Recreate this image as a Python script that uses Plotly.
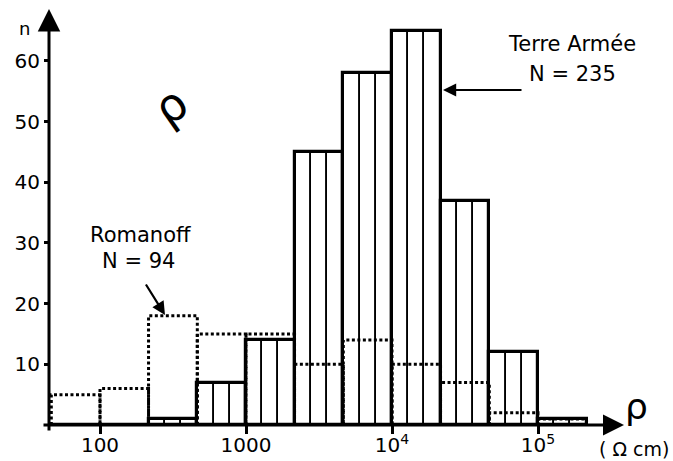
import numpy as np
import plotly.graph_objects as go

# Resistivity bin edges (ohm.cm), 1/3 decade bins
bin_edges = [46.4, 100, 215, 464, 1000, 2150, 4640, 10000, 21500, 46400, 100000, 215000]
# Counts per bin
terre_armee = [0, 0, 1, 7, 14, 45, 58, 65, 37, 12, 1]
romanoff = [5, 6, 18, 15, 15, 10, 14, 10, 7, 2, 1]

x_tick_values = [100, 1000, 10000, 100000]
x_tick_labels = ["100", "1000", "10<sup>4</sup>", "10<sup>5</sup>"]
y_tick_values = [10, 20, 30, 40, 50, 60]
y_tick_labels = ["10", "20", "30", "40", "50", "60"]

W, H = 673, 461
FONT = "DejaVu Sans"

le = np.log10(bin_edges)
lo, hi = le[:-1], le[1:]
centers = (lo + hi) / 2
widths = hi - lo

fig = go.Figure()

# main Terre Armée bars (thick outline)
fig.add_trace(go.Bar(
    x=centers, y=terre_armee, width=widths,
    marker=dict(color="white", line=dict(color="black", width=3.2)),
    showlegend=False, hoverinfo="skip"))

# internal vertical division lines (each bar split in three)
sub_x, sub_y, sub_w = [], [], []
for l0, w, v in zip(lo, widths, terre_armee):
    if v <= 0:
        continue
    for j in range(3):
        sub_x.append(l0 + (j + 0.5) * w / 3)
        sub_y.append(v)
        sub_w.append(w / 3)
fig.add_trace(go.Bar(
    x=sub_x, y=sub_y, width=sub_w,
    marker=dict(color="rgba(0,0,0,0)", line=dict(color="black", width=1.7)),
    showlegend=False, hoverinfo="skip"))

# Romanoff dotted histogram outline
rx, ry = [], []
for l0, l1, v in zip(lo, hi, romanoff):
    rx += [l0, l0, l1, l1, None]
    ry += [0, v, v, 0, None]
fig.add_trace(go.Scatter(
    x=rx, y=ry, mode="lines",
    line=dict(color="black", width=3, dash="3px,2.5px"),
    showlegend=False, hoverinfo="skip"))


def px(x):
    return x / W


def py(y):
    return 1 - y / H


annotations = []
# axis arrows
annotations.append(dict(x=px(624), y=py(425), xref="paper", yref="paper",
                        ax=-582, ay=0, axref="pixel", ayref="pixel",
                        text="", showarrow=True, arrowhead=2, arrowsize=1.4,
                        arrowwidth=3, arrowcolor="black", standoff=0))
annotations.append(dict(x=px(49), y=py(9), xref="paper", yref="paper",
                        ax=0, ay=423, axref="pixel", ayref="pixel",
                        text="", showarrow=True, arrowhead=2, arrowsize=1.5,
                        arrowwidth=3, arrowcolor="black", standoff=0))
# label arrows
annotations.append(dict(x=px(443), y=py(90), xref="paper", yref="paper",
                        ax=80, ay=0, text="", showarrow=True, arrowhead=2,
                        arrowsize=1.2, arrowwidth=2.2, arrowcolor="black", standoff=0))
annotations.append(dict(x=px(165), y=py(315), xref="paper", yref="paper",
                        ax=-20, ay=-32, text="", showarrow=True, arrowhead=2,
                        arrowsize=1.2, arrowwidth=2.2, arrowcolor="black", standoff=0))


def txt(s, x, y, size=21, angle=0):
    return dict(x=px(x), y=py(y), xref="paper", yref="paper", text=s,
                showarrow=False, textangle=angle,
                font=dict(family=FONT, size=size, color="black"),
                xanchor="center", yanchor="middle")


annotations += [
    txt("Terre Armée", 572, 44),
    txt("N = 235", 572, 74),
    txt("Romanoff", 140, 235),
    txt("N = 94", 138, 261),
    txt("n", 24, 29, size=18),
    txt("ρ", 170, 106, size=46, angle=-35),
    txt("ρ", 636, 406, size=36),
    txt("( Ω cm)", 634, 449, size=19),
]

xr = [2 - 100 / 146, 2 + (W - 100) / 146]
yr = [-(H - 425) / 6.067, 425 / 6.067]

fig.update_layout(
    width=W, height=H, autosize=False,
    margin=dict(l=0, r=0, t=0, b=0, pad=0),
    paper_bgcolor="white", plot_bgcolor="white",
    barmode="overlay", bargap=0,
    showlegend=False,
    annotations=annotations,
    font=dict(family=FONT, size=20, color="black"),
    xaxis=dict(range=xr, showgrid=False, zeroline=False, showline=False,
               tickmode="array", tickvals=list(np.log10(x_tick_values)),
               ticktext=x_tick_labels, ticks="outside", ticklen=8, tickwidth=2.5,
               tickcolor="black", anchor="free", position=1 - 425 / H,
               ticklabelstandoff=-6,
               tickfont=dict(family=FONT, size=20, color="black"),
               automargin=False, fixedrange=True),
    yaxis=dict(range=yr, showgrid=False, zeroline=False, showline=False,
               tickmode="array", tickvals=y_tick_values, ticktext=y_tick_labels,
               ticks="outside", ticklen=5, tickwidth=2.5, tickcolor="black",
               anchor="free", position=49 / W,
               tickfont=dict(family=FONT, size=20, color="black"),
               automargin=False, fixedrange=True),
)

fig.write_html("out.html")
